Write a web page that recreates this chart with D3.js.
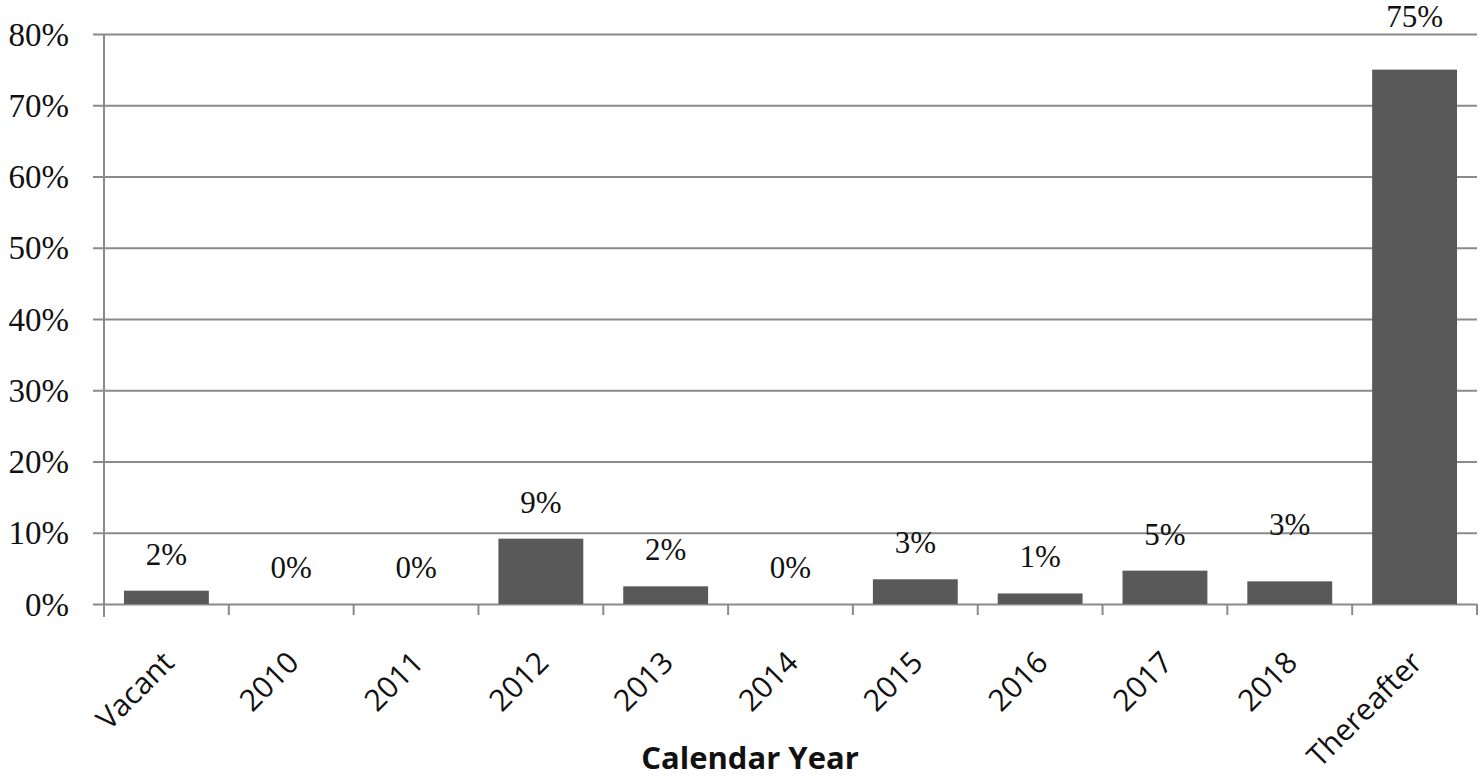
<!DOCTYPE html>
<html>
<head>
<meta charset="utf-8">
<script src="https://cdn.jsdelivr.net/npm/d3@7"></script>
<style>
	body { margin: 0; background: #fff; }
	svg { display: block; }
	.tick-label { font-family: "Liberation Serif", "DejaVu Serif", serif; font-size: 33px; fill: #111; }
	.cat-label { font-family: "Open Sans", "Noto Sans", sans-serif; font-size: 30px; fill: #111; }
	.bar-label { font-family: "Liberation Serif", "DejaVu Serif", serif; font-size: 31px; fill: #111; }
	.axis-title { font-family: "Open Sans", "Noto Sans", sans-serif; font-size: 31px; font-weight: bold; fill: #111; }
</style>
</head>
<body>
<div id="chart"></div>
<script>
var categories = ['Vacant', '2010', '2011', '2012', '2013', '2014', '2015', '2016', '2017', '2018', 'Thereafter'];
var values = [0.0187, 0, 0, 0.0917, 0.0248, 0, 0.0347, 0.0148, 0.0468, 0.0318, 0.750];
var yTicks = [0, 0.1, 0.2, 0.3, 0.4, 0.5, 0.6, 0.7, 0.8];
var xTitle = 'Calendar Year';

var options = {
	width: 1482,
	height: 779,
	left: 104,
	right: 1477,
	top: 34,
	bottom: 604,
	tickLen: 11,
	barColor: '#595959',
	lineColor: '#8a8a8a',
	labelGap: 26
};

// a couple of labels sit higher than the rest in the original
var labelLift = { '2018': 20, 'Thereafter': 17 };

var svg = d3.select('#chart').append('svg')
	.attr('width', options.width)
	.attr('height', options.height);

var x = d3.scaleBand()
	.domain(categories)
	.range([options.left, options.right])
	.paddingInner(0.32)
	.paddingOuter(0.16);

var y = d3.scaleLinear()
	.domain([0, 0.8])
	.range([options.bottom, options.top]);

var step = x.step();
var gap = (step - x.bandwidth()) / 2;

// Gridlines + y ticks
var yAxis = svg.append('g')
	.attr('transform', 'translate(' + options.left + ',0)')
	.call(d3.axisLeft(y)
		.tickValues(yTicks)
		.tickFormat(d3.format('.0%'))
		.tickSize(options.tickLen)
		.tickPadding(24));
yAxis.select('.domain').remove();
yAxis.selectAll('.tick line')
	.attr('x2', options.right - options.left)
	.attr('x1', -options.tickLen)
	.attr('stroke', options.lineColor)
	.attr('stroke-width', 2);
yAxis.selectAll('.tick text')
	.attr('class', 'tick-label')
	.attr('dy', '0.34em');

// Vertical axis line
svg.append('line')
	.attr('x1', options.left)
	.attr('x2', options.left)
	.attr('y1', options.top)
	.attr('y2', options.bottom + options.tickLen + 2)
	.attr('stroke', options.lineColor)
	.attr('stroke-width', 2);

// Category boundary ticks
var bounds = categories.map(function (c) { return x(c) - gap; });
bounds.push(x(categories[categories.length - 1]) + x.bandwidth() + gap);
svg.selectAll('line.cat-tick')
	.data(bounds.slice(1))
	.enter().append('line')
	.classed('cat-tick', true)
	.attr('x1', function (d) { return d; })
	.attr('x2', function (d) { return d; })
	.attr('y1', options.bottom)
	.attr('y2', options.bottom + options.tickLen)
	.attr('stroke', options.lineColor)
	.attr('stroke-width', 2);

// Bars
svg.selectAll('rect.bar')
	.data(values)
	.enter().append('rect')
	.classed('bar', true)
	.attr('x', function (d, i) { return x(categories[i]); })
	.attr('y', function (d) { return y(d); })
	.attr('width', x.bandwidth())
	.attr('height', function (d) { return y(0) - y(d); })
	.attr('fill', options.barColor);

// Value labels
svg.selectAll('text.bar-label')
	.data(values)
	.enter().append('text')
	.attr('class', 'bar-label')
	.attr('text-anchor', 'middle')
	.attr('x', function (d, i) { return x(categories[i]) + x.bandwidth() / 2; })
	.attr('y', function (d, i) { return y(d) - options.labelGap - (labelLift[categories[i]] || 0); })
	.text(function (d) { return d3.format('.0%')(d); });

// Category labels, rotated
svg.selectAll('text.cat-label')
	.data(categories)
	.enter().append('text')
	.attr('class', 'cat-label')
	.attr('text-anchor', 'end')
	.attr('transform', function (d) {
		var cx = x(d) + x.bandwidth() / 2 + 2;
		return 'translate(' + cx + ',' + (options.bottom + 53) + ') rotate(-45)';
	})
	.attr('dy', '0.35em')
	.text(function (d) { return d; });

// Axis title
svg.append('text')
	.attr('class', 'axis-title')
	.attr('text-anchor', 'middle')
	.attr('x', 750)
	.attr('y', 769)
	.text(xTitle);
</script>
</body>
</html>
